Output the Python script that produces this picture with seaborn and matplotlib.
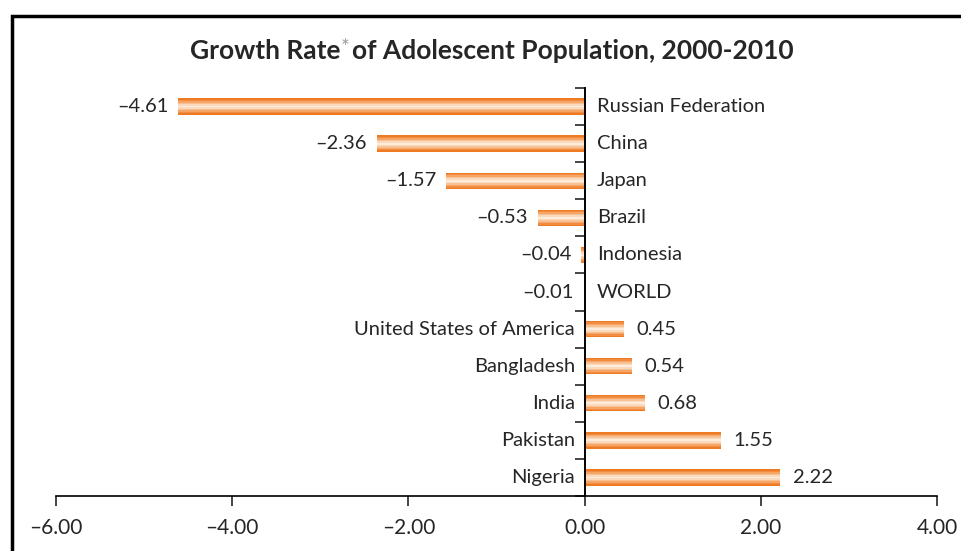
import matplotlib
matplotlib.use("Agg")
import matplotlib.pyplot as plt
import matplotlib.ticker as mticker
from matplotlib.patches import Rectangle
import pandas as pd
import seaborn as sns

countries = ["Russian Federation", "China", "Japan", "Brazil", "Indonesia", "WORLD",
             "United States of America", "Bangladesh", "India", "Pakistan", "Nigeria"]
growth = [-4.61, -2.36, -1.57, -0.53, -0.04, -0.01, 0.45, 0.54, 0.68, 1.55, 2.22]
x_ticks = [-6, -4, -2, 0, 2, 4]

# stepped gradient: orange edge -> pale centre
LAYERS = [(0.44, "#EE7A22"), (0.37, "#F18C42"), (0.29, "#F5A566"),
          (0.21, "#F8C193"), (0.13, "#FBD9BD"), (0.05, "#FDEBDC")]

sns.set_style("white")
plt.rcParams["font.family"] = ["Lato", "DejaVu Sans"]

df = pd.DataFrame({"country": countries, "growth": growth})

fig = plt.figure(figsize=(9.61, 5.51), dpi=100)
ax = fig.add_axes([56 / 961, 1 - 496 / 551, (937 - 56) / 961, (496 - 88) / 551])

for w, c in LAYERS:
    sns.barplot(data=df, x="growth", y="country", orient="h", color=c,
                width=w, saturation=1, linewidth=0, ax=ax)

ax.set_xlim(-6, 4)
ax.set_ylim(len(countries) - 0.5, -0.5)
ax.set_xlabel("")
ax.set_ylabel("")

for s in ("top", "right"):
    ax.spines[s].set_visible(False)
ax.spines["left"].set_position(("data", 0))
ax.spines["left"].set_linewidth(1.4)
ax.spines["bottom"].set_linewidth(1.2)
for s in ("left", "bottom"):
    ax.spines[s].set_color("black")

ax.set_xticks(x_ticks)
ax.set_xticklabels([f"{v:.2f}".replace("-", "\u2013") for v in x_ticks], fontsize=15)
ax.tick_params(axis="x", direction="out", length=7, width=1.2, pad=9, bottom=True)

ax.set_yticks([])
ax.yaxis.set_minor_locator(mticker.FixedLocator([i - 0.5 for i in range(len(countries) + 1)]))
ax.tick_params(axis="y", which="minor", direction="out", length=7, width=1.2, left=True)
ax.tick_params(axis="y", which="major", left=False, labelleft=False)

FS = 14.5
for i, (name, v) in enumerate(zip(countries, growth)):
    vtxt = f"{v:.2f}".replace("-", "\u2013")
    if v < 0:
        ax.annotate(vtxt, (v, i), xytext=(-7, 0), textcoords="offset points",
                    ha="right", va="center", fontsize=FS)
        ax.annotate(name, (0, i), xytext=(9, 0), textcoords="offset points",
                    ha="left", va="center", fontsize=FS)
    else:
        ax.annotate(vtxt, (v, i), xytext=(9, 0), textcoords="offset points",
                    ha="left", va="center", fontsize=FS)
        ax.annotate(name, (0, i), xytext=(-7, 0), textcoords="offset points",
                    ha="right", va="center", fontsize=FS)

# title with grey asterisk
ty = 1 - 51 / 551
fig.text(340 / 961, ty, "Growth Rate", ha="right", va="center",
         fontsize=19, fontweight="bold")
fig.text(341 / 961, ty + 0.006, "*", ha="left", va="center",
         fontsize=15, color="#9a9a9a")
fig.text(352 / 961, ty, "of Adolescent Population, 2000-2010", ha="left",
         va="center", fontsize=19, fontweight="bold")

# partial frame
fig.add_artist(Rectangle((12 / 961, -0.5), 2, 1.5 - 15.5 / 551,
                         transform=fig.transFigure, fill=False,
                         edgecolor="black", linewidth=2.5))

fig.savefig("out.png", dpi=100)
